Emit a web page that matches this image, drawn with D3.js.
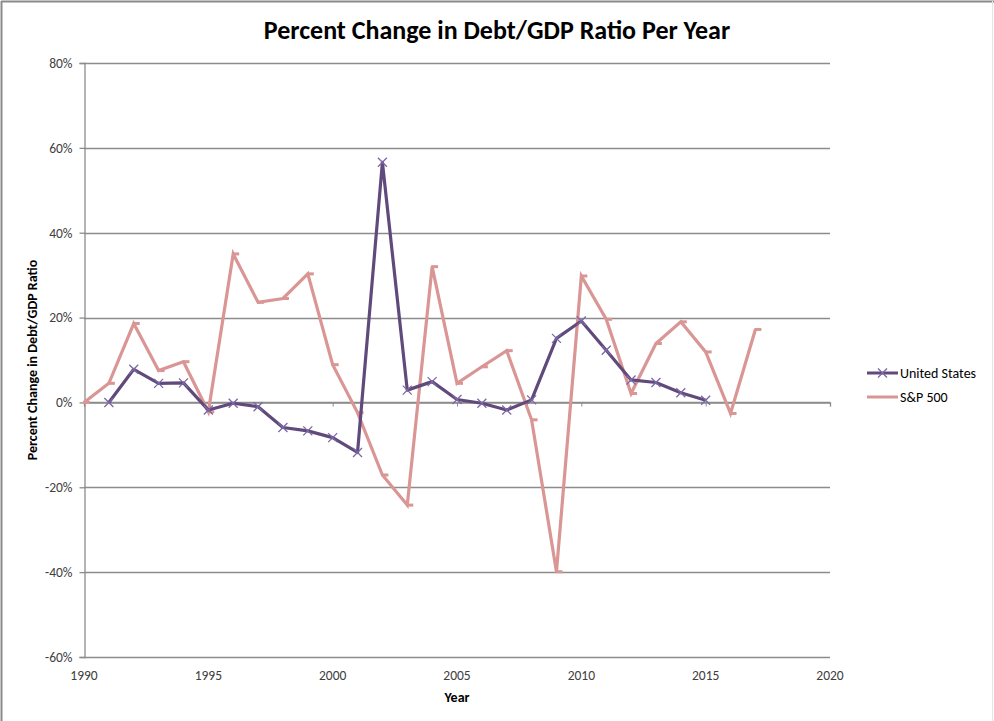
<!DOCTYPE html>
<html>
<head>
<meta charset="utf-8">
<script src="https://cdn.jsdelivr.net/npm/d3@7"></script>
<style>
  html, body { margin: 0; padding: 0; background: #fff; }
  svg { display: block; }
</style>
</head>
<body>
<svg id="chart" width="994" height="721"></svg>
<script>
// Yearly percent change in debt/GDP ratio
const usYears = [1991, 1992, 1993, 1994, 1995, 1996, 1997, 1998, 1999, 2000, 2001, 2002, 2003,
                 2004, 2005, 2006, 2007, 2008, 2009, 2010, 2011, 2012, 2013, 2014, 2015];
const usValues = [0.0, 7.8, 4.5, 4.6, -1.8, -0.2, -1.0, -5.9, -6.7, -8.3, -11.8, 56.6, 2.9,
                  4.9, 0.7, -0.2, -1.8, 0.6, 15.1, 19.2, 12.3, 5.3, 4.7, 2.3, 0.5];

const spYears = [1990, 1991, 1992, 1993, 1994, 1995, 1996, 1997, 1998, 1999, 2000, 2001, 2002, 2003,
                 2004, 2005, 2006, 2007, 2008, 2009, 2010, 2011, 2012, 2013, 2014, 2015, 2016, 2017];
const spValues = [0.0, 4.5, 18.6, 7.5, 9.6, -2.2, 35.0, 23.6, 24.5, 30.3, 8.9, -2.4, -17.1, -24.2,
                  32.0, 4.5, 8.4, 12.2, -4.1, -39.9, 29.8, 19.6, 2.1, 13.9, 19.0, 11.9, -2.6, 17.2];

const xTicks = [1990, 1995, 2000, 2005, 2010, 2015, 2020];
const yTicks = [-60, -40, -20, 0, 20, 40, 60, 80];

const seriesNames = ["United States", "S&P 500"];
const titleText = "Percent Change in Debt/GDP Ratio Per Year";
const xTitle = "Year";
const yTitle = "Percent Change in Debt/GDP Ratio";

const font = "Carlito, Lato, 'Liberation Sans', sans-serif";
const usColor = "#604a7b";
const spColor = "#d99694";
const gridColor = "#8c8c8c";

const svg = d3.select("#chart");

// chart frame
svg.append("line").attr("x1", 1.5).attr("x2", 1.5).attr("y1", 1).attr("y2", 721)
  .attr("stroke", "#8a8a8a").attr("stroke-width", 2);
svg.append("line").attr("x1", 1).attr("x2", 994).attr("y1", 1.5).attr("y2", 1.5)
  .attr("stroke", "#8a8a8a").attr("stroke-width", 2);
svg.append("line").attr("x1", 992.5).attr("x2", 992.5).attr("y1", 1).attr("y2", 721)
  .attr("stroke", "#e6e6e6").attr("stroke-width", 1);

const plot = { left: 84, right: 830, top: 63, bottom: 657 };

const x = d3.scaleLinear().domain([1990, 2020]).range([plot.left, plot.right]);
const y = d3.scaleLinear().domain([-60, 80]).range([plot.bottom, plot.top]);

// horizontal gridlines
svg.append("g")
  .selectAll("line")
  .data(yTicks)
  .join("line")
  .attr("x1", plot.left).attr("x2", plot.right)
  .attr("y1", d => Math.round(y(d)) + 0.5).attr("y2", d => Math.round(y(d)) + 0.5)
  .attr("stroke", gridColor).attr("stroke-width", 1.3);

// y axis
const yAxis = svg.append("g")
  .attr("transform", `translate(${plot.left + 0.5},0)`)
  .call(d3.axisLeft(y).tickValues(yTicks).tickSize(5).tickPadding(7)
    .tickFormat(d => d + "%"));
yAxis.select(".domain").attr("stroke", gridColor).attr("stroke-width", 1.3);
yAxis.selectAll(".tick line").attr("stroke", gridColor).attr("stroke-width", 1.3);
yAxis.selectAll(".tick text")
  .attr("font-family", font).attr("font-size", 13.5).attr("fill", "#404040");

// x axis line sits at the zero level; labels go below the plot
const xAxis = svg.append("g")
  .attr("transform", `translate(0,${Math.round(y(0)) + 0.5})`)
  .call(d3.axisBottom(x).tickValues(xTicks).tickSize(4).tickFormat(() => ""));
xAxis.select(".domain").attr("stroke", gridColor).attr("stroke-width", 1.3);
xAxis.selectAll(".tick line").attr("stroke", gridColor).attr("stroke-width", 1);

svg.append("g")
  .selectAll("text")
  .data(xTicks)
  .join("text")
  .attr("x", d => x(d))
  .attr("y", plot.bottom + 23)
  .attr("text-anchor", "middle")
  .attr("font-family", font).attr("font-size", 13.5).attr("fill", "#404040")
  .text(d => d);

// lines
const usData = usYears.map((yr, i) => ({ yr, v: usValues[i] }));
const spData = spYears.map((yr, i) => ({ yr, v: spValues[i] }));

const lineGen = d3.line().x(d => x(d.yr)).y(d => y(d.v));

svg.append("path").datum(spData)
  .attr("d", lineGen)
  .attr("fill", "none").attr("stroke", spColor).attr("stroke-width", 3.2)
  .attr("stroke-linejoin", "miter");

// dash markers on S&P 500
svg.append("g")
  .selectAll("line")
  .data(spData)
  .join("line")
  .attr("x1", d => x(d.yr) - 1).attr("x2", d => x(d.yr) + 6)
  .attr("y1", d => y(d.v)).attr("y2", d => y(d.v))
  .attr("stroke", spColor).attr("stroke-width", 3);

svg.append("path").datum(usData)
  .attr("d", lineGen)
  .attr("fill", "none").attr("stroke", usColor).attr("stroke-width", 3.2)
  .attr("stroke-linejoin", "round");

// x markers on United States
const xm = 4.5;
const usMarks = svg.append("g").selectAll("g").data(usData).join("g")
  .attr("transform", d => `translate(${x(d.yr)},${y(d.v)})`);
usMarks.append("path")
  .attr("d", `M${-xm},${-xm}L${xm},${xm}M${-xm},${xm}L${xm},${-xm}`)
  .attr("stroke", "#7b68a6").attr("stroke-width", 1.3).attr("fill", "none");

// titles
svg.append("text")
  .attr("x", 497).attr("y", 39)
  .attr("text-anchor", "middle")
  .attr("font-family", font).attr("font-weight", "bold").attr("font-size", 26)
  .attr("fill", "#000")
  .text(titleText);

svg.append("text")
  .attr("x", 457).attr("y", 702)
  .attr("text-anchor", "middle")
  .attr("font-family", font).attr("font-weight", "bold").attr("font-size", 14)
  .attr("fill", "#000")
  .text(xTitle);

svg.append("text")
  .attr("transform", "translate(37,360) rotate(-90)")
  .attr("text-anchor", "middle")
  .attr("font-family", font).attr("font-weight", "bold").attr("font-size", 14)
  .attr("fill", "#000")
  .text(yTitle);

// legend
const legend = svg.append("g");
const legendRows = [
  { name: seriesNames[0], color: usColor, y: 373, marker: true },
  { name: seriesNames[1], color: spColor, y: 397, marker: false }
];
legendRows.forEach(r => {
  legend.append("line")
    .attr("x1", 867).attr("x2", 898).attr("y1", r.y).attr("y2", r.y)
    .attr("stroke", r.color).attr("stroke-width", 3);
  if (r.marker) {
    legend.append("path")
      .attr("transform", `translate(882.5,${r.y})`)
      .attr("d", `M${-xm},${-xm}L${xm},${xm}M${-xm},${xm}L${xm},${-xm}`)
      .attr("stroke", "#7b68a6").attr("stroke-width", 1.3).attr("fill", "none");
  }
  legend.append("text")
    .attr("x", 900).attr("y", r.y + 5)
    .attr("font-family", font).attr("font-size", 14).attr("fill", "#000")
    .text(r.name);
});
</script>
</body>
</html>
